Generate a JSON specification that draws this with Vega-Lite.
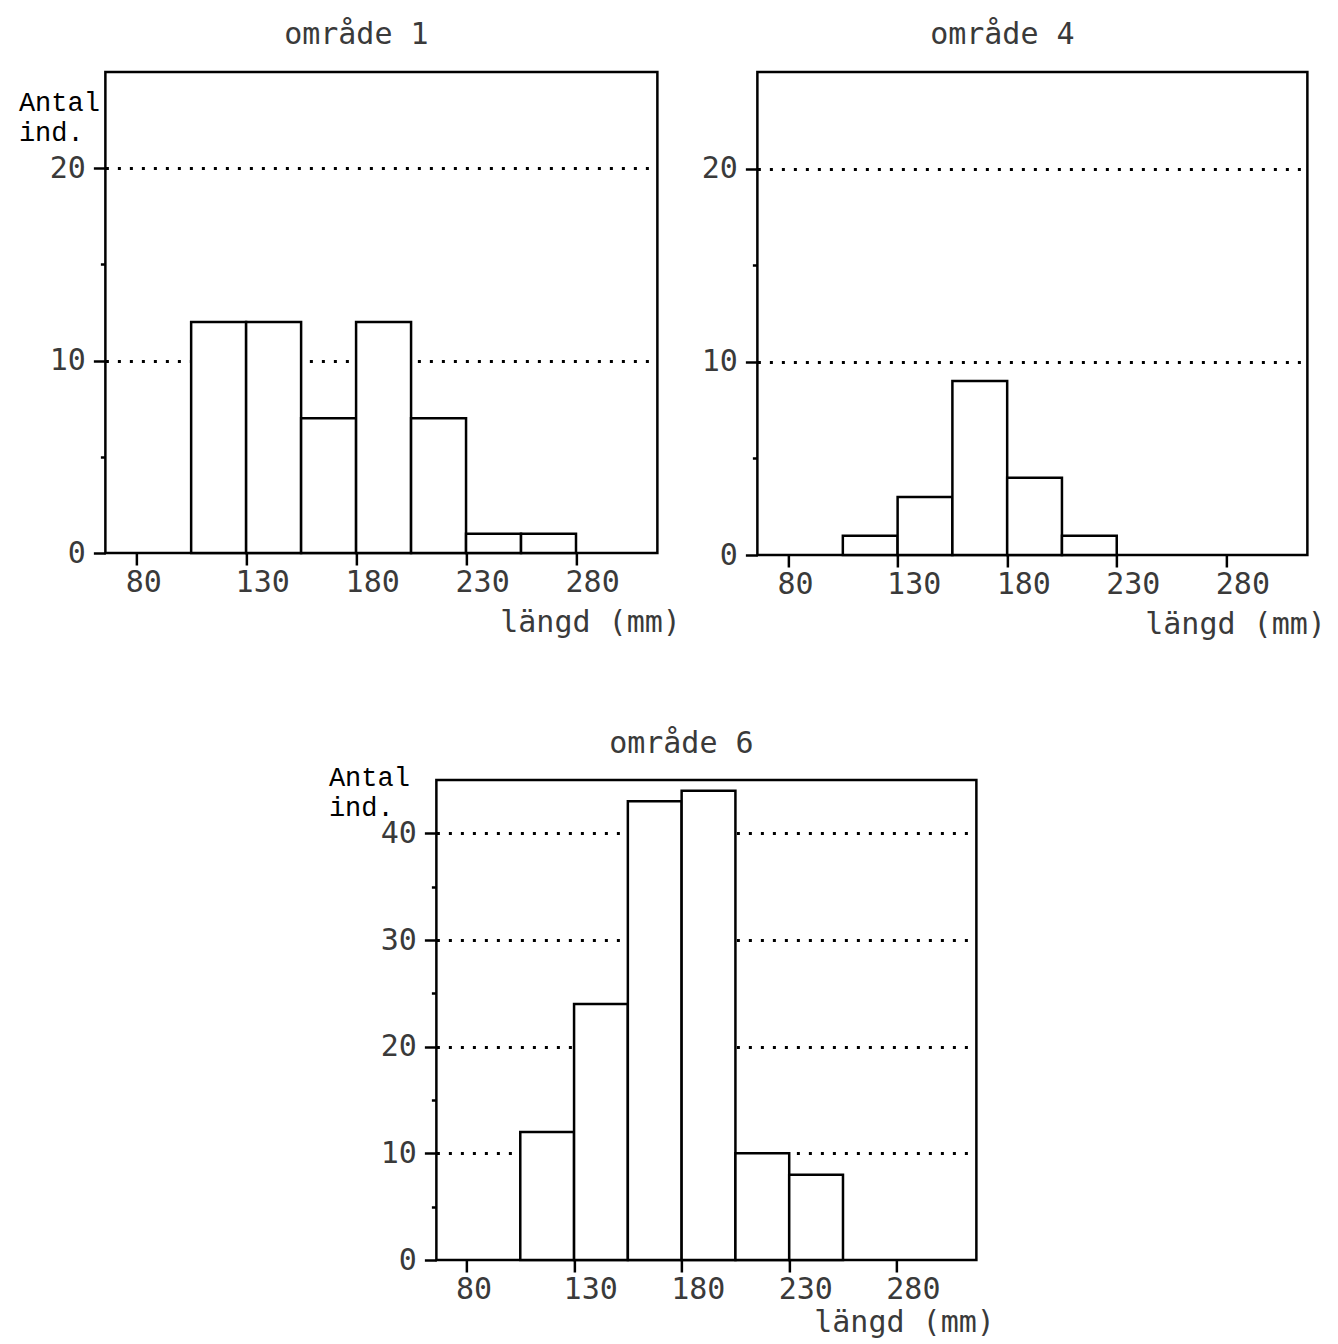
{
  "$schema": "https://vega.github.io/schema/vega-lite/v6.json",
  "background": "white",
  "padding": {"left": 17, "top": 18, "right": 10, "bottom": 2},
  "datasets": {
    "omr1": [
      {"fran": 105, "till": 130, "antal": 12},
      {"fran": 130, "till": 155, "antal": 12},
      {"fran": 155, "till": 180, "antal": 7},
      {"fran": 180, "till": 205, "antal": 12},
      {"fran": 205, "till": 230, "antal": 7},
      {"fran": 230, "till": 255, "antal": 1},
      {"fran": 255, "till": 280, "antal": 1}
    ],
    "omr4": [
      {"fran": 105, "till": 130, "antal": 1},
      {"fran": 130, "till": 155, "antal": 3},
      {"fran": 155, "till": 180, "antal": 9},
      {"fran": 180, "till": 205, "antal": 4},
      {"fran": 205, "till": 230, "antal": 1}
    ],
    "omr6": [
      {"fran": 105, "till": 130, "antal": 12},
      {"fran": 130, "till": 155, "antal": 24},
      {"fran": 155, "till": 180, "antal": 43},
      {"fran": 180, "till": 205, "antal": 44},
      {"fran": 205, "till": 230, "antal": 10},
      {"fran": 230, "till": 255, "antal": 8}
    ]
  },
  "vconcat": [
    {
      "hconcat": [
        {
          "width": 552,
          "height": 481,
          "title": {"text": "område 1", "dx": -25},
          "data": {"name": "omr1"},
          "mark": {"type": "bar", "fill": "white", "stroke": "black", "strokeWidth": 2.5},
          "encoding": {
            "x": {
              "field": "fran", "type": "quantitative",
              "scale": {"domain": [66, 317], "nice": false, "zero": false},
              "axis": {"values": [80, 130, 180, 230, 280], "title": "längd (mm)", "titleX": 575, "titleY": 78}
            },
            "x2": {"field": "till"},
            "y": {
              "field": "antal", "type": "quantitative",
              "scale": {"domain": [0, 25], "nice": false},
              "axis": {
                "values": [0, 5, 10, 15, 20],
                "title": ["Antal", "ind."], "titleX": -87, "titleY": 38
              }
            },
            "y2": {"datum": 0}
          }
        },
        {
          "width": 550,
          "height": 483,
          "title": {"text": "område 4", "dx": -30},
          "data": {"name": "omr4"},
          "mark": {"type": "bar", "fill": "white", "stroke": "black", "strokeWidth": 2.5},
          "encoding": {
            "x": {
              "field": "fran", "type": "quantitative",
              "scale": {"domain": [66, 317], "nice": false, "zero": false},
              "axis": {"values": [80, 130, 180, 230, 280], "title": "längd (mm)", "titleX": 568, "titleY": 78}
            },
            "x2": {"field": "till"},
            "y": {
              "field": "antal", "type": "quantitative",
              "scale": {"domain": [0, 25], "nice": false},
              "axis": {"values": [0, 5, 10, 15, 20], "title": null}
            },
            "y2": {"datum": 0}
          }
        }
      ],
      "spacing": 17
    },
    {
      "width": 540,
      "height": 480,
      "title": {"text": "område 6", "dx": -25, "offset": 4},
      "data": {"name": "omr6"},
      "mark": {"type": "bar", "fill": "white", "stroke": "black", "strokeWidth": 2.5},
      "encoding": {
        "x": {
          "field": "fran", "type": "quantitative",
          "scale": {"domain": [66, 317], "nice": false, "zero": false},
          "axis": {"values": [80, 130, 180, 230, 280], "title": "längd (mm)", "titleX": 558, "titleY": 71}
        },
        "x2": {"field": "till"},
        "y": {
          "field": "antal", "type": "quantitative",
          "scale": {"domain": [0, 45], "nice": false},
          "axis": {
            "values": [0, 5, 10, 15, 20, 25, 30, 35, 40],
            "title": ["Antal", "ind."], "titleX": -108, "titleY": 5
          }
        },
        "y2": {"datum": 0}
      }
    }
  ],
  "spacing": 86,
  "center": true,
  "config": {
    "view": {"stroke": "black", "strokeWidth": 2.5},
    "title": {
      "font": "DejaVu Sans Mono", "fontSize": 30, "fontWeight": "normal",
      "color": "#3a3a3a", "offset": 22, "frame": "group"
    },
    "axisX": {
      "domain": false,
      "grid": false,
      "tickSize": 12,
      "tickWidth": 2.5,
      "tickColor": "black",
      "labelFont": "DejaVu Sans Mono",
      "labelFontSize": 30,
      "labelColor": "#3a3a3a",
      "labelAlign": "left",
      "labelBaseline": "top",
      "labelOffset": -11,
      "labelPadding": 2,
      "labelFlush": false,
      "labelOverlap": false,
      "titleFont": "DejaVu Sans Mono",
      "titleFontSize": 30,
      "titleFontWeight": "normal",
      "titleColor": "#3a3a3a",
      "titleAlign": "right",
      "titleBaseline": "alphabetic",
      "titleAnchor": "end"
    },
    "axisY": {
      "domain": false,
      "grid": true,
      "gridColor": "black",
      "gridDash": [3, 9],
      "gridWidth": 3,
      "gridOpacity": {"condition": {"test": "datum.value % 10 != 0 || datum.value == 0", "value": 0}, "value": 1},
      "tickSize": {"condition": {"test": "datum.value % 10 != 0", "value": 5}, "value": 12},
      "tickWidth": 2.5,
      "tickColor": "black",
      "labelExpr": "datum.value % 10 == 0 ? datum.label : ''",
      "labelFont": "DejaVu Sans Mono",
      "labelFontSize": 30,
      "labelColor": "#3a3a3a",
      "labelPadding": 8,
      "labelBaseline": "middle",
      "labelFlush": false,
      "labelOverlap": false,
      "titleFont": "Liberation Mono",
      "titleFontSize": 27,
      "titleFontWeight": "normal",
      "titleColor": "black",
      "titleAngle": 0,
      "titleAlign": "left",
      "titleBaseline": "alphabetic",
      "titleLineHeight": 30
    }
  }
}
